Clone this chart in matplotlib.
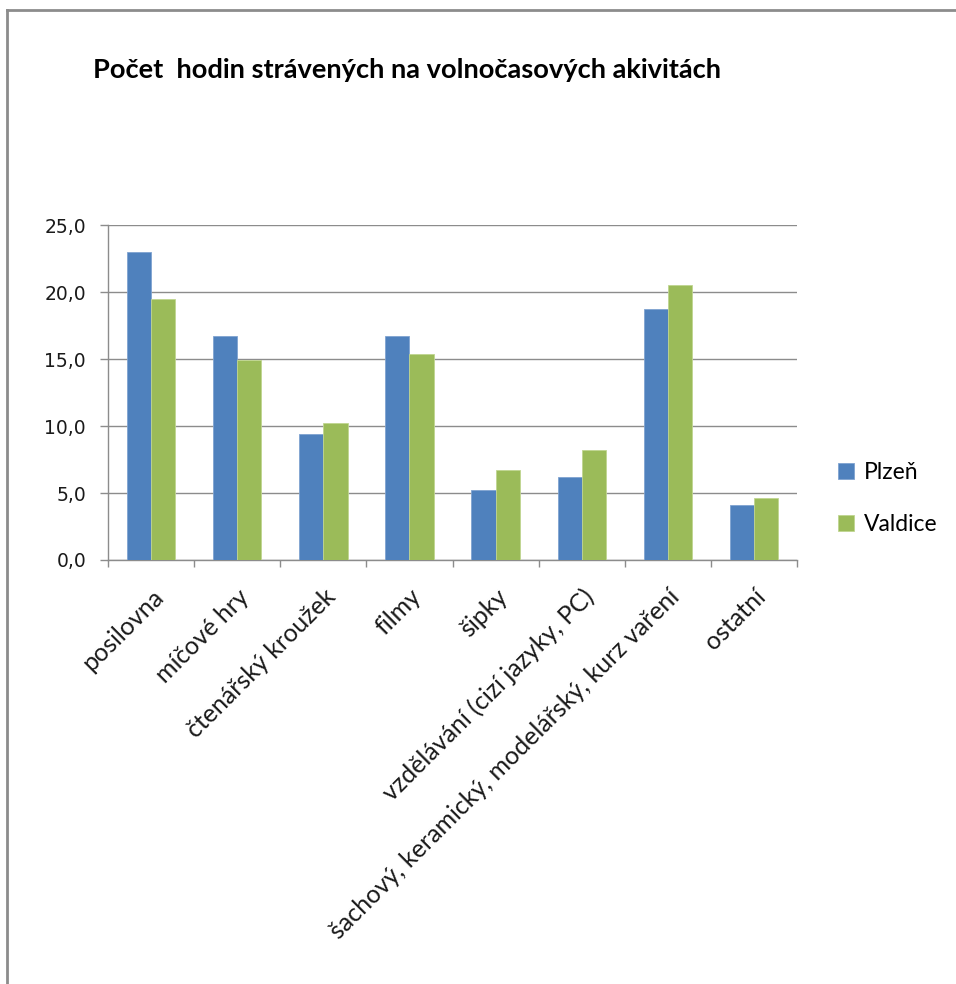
import matplotlib
matplotlib.use("Agg")
import matplotlib.pyplot as plt
import numpy as np
from matplotlib.lines import Line2D
from matplotlib.ticker import FixedLocator, FuncFormatter

categories = ["posilovna", "míčové hry", "čtenářský kroužek", "filmy", "šipky",
              "vzdělávání (cizí jazyky, PC)", "šachový, keramický, modelářský, kurz vaření",
              "ostatní"]
plzen = [23.0, 16.7, 9.4, 16.7, 5.2, 6.2, 18.7, 4.1]
valdice = [19.5, 14.9, 10.2, 15.4, 6.7, 8.2, 20.5, 4.6]
series_names = ["Plzeň", "Valdice"]
title = "Počet  hodin strávených na volnočasových akivitách"
yticks = [0, 5, 10, 15, 20, 25]

plt.rcParams['font.family'] = ['Lato', 'DejaVu Sans']

fig = plt.figure(figsize=(9.56, 9.84), dpi=100)
ax = fig.add_axes([0.1133, 0.4309, 0.8334 - 0.1133, 0.7713 - 0.4309])

x = np.arange(len(categories))
w = 0.28
ax.bar(x - w / 2, plzen, width=w, color="#4F81BD", edgecolor="#7FA3D0", linewidth=0.6,
       label=series_names[0], zorder=3)
ax.bar(x + w / 2, valdice, width=w, color="#9BBB59", edgecolor="#C0D690", linewidth=0.6,
       label=series_names[1], zorder=3)

ax.set_xlim(-0.5, len(categories) - 0.5)
ax.set_ylim(0, 25)
ax.set_yticks(yticks)
ax.yaxis.set_major_formatter(FuncFormatter(lambda v, p: f"{v:.1f}".replace(".", ",")))
ax.grid(axis="y", color="#8C8C8C", linewidth=1.0, zorder=0)

ax.set_xticks(x)
ax.set_xticklabels(categories, rotation=45, ha="right", rotation_mode="anchor", fontsize=18,
                   color="#1a1a1a")
ax.tick_params(axis="x", which="major", length=0, pad=18)
ax.xaxis.set_minor_locator(FixedLocator(np.arange(-0.5, len(categories), 1.0)))
ax.tick_params(axis="x", which="minor", length=5, color="#8C8C8C", width=1.0)
ax.tick_params(axis="y", length=6, color="#8C8C8C", width=1.0, labelsize=13.5,
               labelcolor="#1a1a1a", pad=10)
for lbl in ax.get_yticklabels():
    lbl.set_fontfamily(['DejaVu Sans'])

for s in ["top", "right"]:
    ax.spines[s].set_visible(False)
for s in ["left", "bottom"]:
    ax.spines[s].set_color("#8C8C8C")
    ax.spines[s].set_linewidth(1.0)

leg = fig.legend(loc="center left", bbox_to_anchor=(0.855, 0.4935), frameon=False,
                 fontsize=16.5, handlelength=0.7, handleheight=0.7, handletextpad=0.45,
                 labelspacing=1.35)

fig.text(0.097, 0.929, title, fontsize=19.6, fontweight="bold", ha="left", va="center",
         color="#000000")

fig.add_artist(Line2D([0.007, 0.007], [0, 0.99], transform=fig.transFigure,
                      color="#8C8C8C", linewidth=2))
fig.add_artist(Line2D([0.007, 1.0], [0.99, 0.99], transform=fig.transFigure,
                      color="#8C8C8C", linewidth=2))

fig.savefig("out.png", dpi=100, facecolor="white")
